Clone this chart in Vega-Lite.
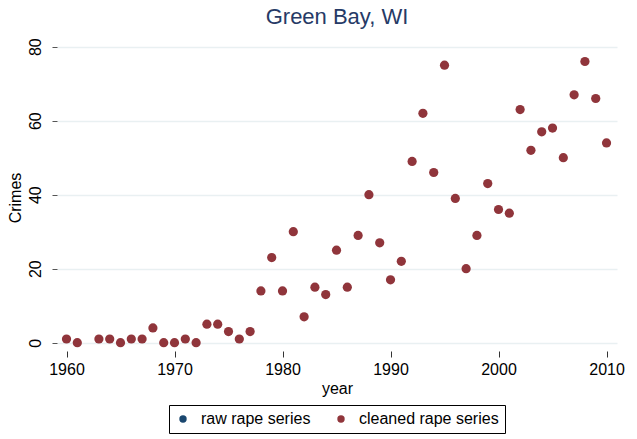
{
  "$schema": "https://vega.github.io/schema/vega-lite/v6.json",
  "autosize": {"type": "none"},
  "padding": {"left": 57, "top": 44, "right": 20, "bottom": 88},
  "width": 560,
  "height": 307,
  "background": "white",
  "config": {
    "view": {"stroke": null},
    "font": "Liberation Sans"
  },
  "title": {
    "text": "Green Bay, WI",
    "fontSize": 22,
    "fontWeight": "normal",
    "color": "#263a66",
    "anchor": "middle",
    "offset": 9
  },
  "data": {
    "values": [
      {"year": 1960, "crimes": 1, "series": "cleaned rape series"},
      {"year": 1961, "crimes": 0, "series": "cleaned rape series"},
      {"year": 1963, "crimes": 1, "series": "cleaned rape series"},
      {"year": 1964, "crimes": 1, "series": "cleaned rape series"},
      {"year": 1965, "crimes": 0, "series": "cleaned rape series"},
      {"year": 1966, "crimes": 1, "series": "cleaned rape series"},
      {"year": 1967, "crimes": 1, "series": "cleaned rape series"},
      {"year": 1968, "crimes": 4, "series": "cleaned rape series"},
      {"year": 1969, "crimes": 0, "series": "cleaned rape series"},
      {"year": 1970, "crimes": 0, "series": "cleaned rape series"},
      {"year": 1971, "crimes": 1, "series": "cleaned rape series"},
      {"year": 1972, "crimes": 0, "series": "cleaned rape series"},
      {"year": 1973, "crimes": 5, "series": "cleaned rape series"},
      {"year": 1974, "crimes": 5, "series": "cleaned rape series"},
      {"year": 1975, "crimes": 3, "series": "cleaned rape series"},
      {"year": 1976, "crimes": 1, "series": "cleaned rape series"},
      {"year": 1977, "crimes": 3, "series": "cleaned rape series"},
      {"year": 1978, "crimes": 14, "series": "cleaned rape series"},
      {"year": 1979, "crimes": 23, "series": "cleaned rape series"},
      {"year": 1980, "crimes": 14, "series": "cleaned rape series"},
      {"year": 1981, "crimes": 30, "series": "cleaned rape series"},
      {"year": 1982, "crimes": 7, "series": "cleaned rape series"},
      {"year": 1983, "crimes": 15, "series": "cleaned rape series"},
      {"year": 1984, "crimes": 13, "series": "cleaned rape series"},
      {"year": 1985, "crimes": 25, "series": "cleaned rape series"},
      {"year": 1986, "crimes": 15, "series": "cleaned rape series"},
      {"year": 1987, "crimes": 29, "series": "cleaned rape series"},
      {"year": 1988, "crimes": 40, "series": "cleaned rape series"},
      {"year": 1989, "crimes": 27, "series": "cleaned rape series"},
      {"year": 1990, "crimes": 17, "series": "cleaned rape series"},
      {"year": 1991, "crimes": 22, "series": "cleaned rape series"},
      {"year": 1992, "crimes": 49, "series": "cleaned rape series"},
      {"year": 1993, "crimes": 62, "series": "cleaned rape series"},
      {"year": 1994, "crimes": 46, "series": "cleaned rape series"},
      {"year": 1995, "crimes": 75, "series": "cleaned rape series"},
      {"year": 1996, "crimes": 39, "series": "cleaned rape series"},
      {"year": 1997, "crimes": 20, "series": "cleaned rape series"},
      {"year": 1998, "crimes": 29, "series": "cleaned rape series"},
      {"year": 1999, "crimes": 43, "series": "cleaned rape series"},
      {"year": 2000, "crimes": 36, "series": "cleaned rape series"},
      {"year": 2001, "crimes": 35, "series": "cleaned rape series"},
      {"year": 2002, "crimes": 63, "series": "cleaned rape series"},
      {"year": 2003, "crimes": 52, "series": "cleaned rape series"},
      {"year": 2004, "crimes": 57, "series": "cleaned rape series"},
      {"year": 2005, "crimes": 58, "series": "cleaned rape series"},
      {"year": 2006, "crimes": 50, "series": "cleaned rape series"},
      {"year": 2007, "crimes": 67, "series": "cleaned rape series"},
      {"year": 2008, "crimes": 76, "series": "cleaned rape series"},
      {"year": 2009, "crimes": 66, "series": "cleaned rape series"},
      {"year": 2010, "crimes": 54, "series": "cleaned rape series"}
    ]
  },
  "mark": {"type": "circle", "size": 85, "opacity": 1},
  "encoding": {
    "x": {
      "field": "year",
      "type": "quantitative",
      "scale": {"domain": [1959.12, 2010.97], "nice": false, "zero": false},
      "axis": {
        "values": [1960, 1970, 1980, 1990, 2000, 2010],
        "format": "d",
        "title": "year",
        "grid": false,
        "domain": false,
        "tickSize": 6,
        "tickColor": "#333333",
        "labelFontSize": 16,
        "labelColor": "#000000",
        "labelPadding": 4,
        "titleFontSize": 16,
        "titleFontWeight": "normal",
        "titleColor": "#000000",
        "titlePadding": 3
      }
    },
    "y": {
      "field": "crimes",
      "type": "quantitative",
      "scale": {"domain": [-2.24, 80.73], "nice": false, "zero": false},
      "axis": {
        "values": [0, 20, 40, 60, 80],
        "title": "Crimes",
        "grid": true,
        "gridColor": "#e9f0f2",
        "gridWidth": 1.5,
        "domain": false,
        "tickSize": 5,
        "tickColor": "#555555",
        "labelAngle": -90,
        "labelAlign": "center",
        "labelBaseline": "bottom",
        "labelFontSize": 16,
        "labelColor": "#000000",
        "labelPadding": 9,
        "titleFontSize": 16,
        "titleFontWeight": "normal",
        "titleColor": "#000000",
        "titlePadding": 4
      }
    },
    "color": {
      "field": "series",
      "type": "nominal",
      "scale": {
        "domain": ["raw rape series", "cleaned rape series"],
        "range": ["#1a476f", "#90353b"]
      },
      "legend": {
        "title": null,
        "orient": "none",
        "legendX": 112,
        "legendY": 361,
        "direction": "horizontal",
        "strokeColor": "#000000",
        "padding": 6,
        "symbolType": "circle",
        "symbolSize": 55,
        "symbolOpacity": 1,
        "symbolStrokeWidth": 0,
        "labelFontSize": 16,
        "labelColor": "#000000",
        "labelOffset": 10,
        "columnPadding": 22
      }
    }
  }
}
